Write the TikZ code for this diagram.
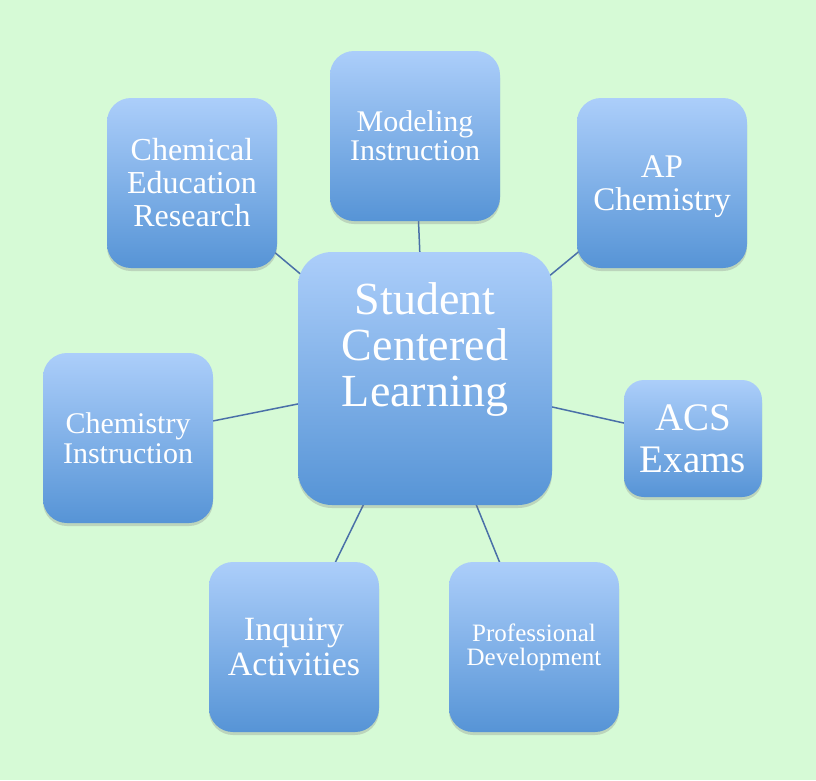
\documentclass[tikz,border=0pt]{standalone}
\usepackage{fontspec}
\setmainfont{Liberation Serif}
\usepackage{tikz}
\usetikzlibrary{backgrounds}
\usetikzlibrary{positioning}
\usetikzlibrary{shadows}

\definecolor{paper}{RGB}{214,250,214}
\definecolor{cardtop}{RGB}{172,206,250}
\definecolor{cardbottom}{RGB}{86,148,214}
\definecolor{linkblue}{RGB}{74,112,168}

\begin{document}
\begin{tikzpicture}[x=1pt,y=-1pt,
  card/.style={rectangle,rounded corners=24pt,top color=cardtop,bottom color=cardbottom,
    text=white,align=center,inner sep=0pt,minimum width=170pt,minimum height=170pt,
    drop shadow={shadow xshift=0pt,shadow yshift=-3pt,opacity=0.3}},
  link/.style={draw=linkblue,line width=1.5pt}]

  \useasboundingbox (0,0) rectangle (816,780);

  \node [card,minimum width=254pt,minimum height=253pt,rounded corners=34pt] (hub) at (425,378.5) {};
  \node [below=31pt of hub.north,text=white,align=center,inner sep=0pt,
    font=\fontsize{46}{46}\selectfont] (hublab) {Student\\Centered\\Learning};

  \node [card,font=\fontsize{30}{29}\selectfont] (model) at (415,136) {Modeling\\Instruction};
  \node [card,text depth=0pt,font=\fontsize{33}{33}\selectfont] (apchem) at (662,183) {AP\\Chemistry};
  \node [card,font=\fontsize{32}{33}\selectfont] (chemed) at (192,183) {Chemical\\Education\\Research};
  \node [card,font=\fontsize{30}{30}\selectfont] (chemins) at (128,438) {Chemistry\\Instruction};
  \node [card,minimum width=138pt,minimum height=117pt,rounded corners=20pt,
    font=\fontsize{39}{42}\selectfont] (acs) at (693,438.5) {ACS\\Exams};
  \node [card,font=\fontsize{34}{35}\selectfont] (inquiry) at (294,647) {Inquiry\\Activities};
  \node [card,font=\fontsize{25}{24}\selectfont] (profdev) at (534,647) {Professional\\Development};

  \begin{scope}[on background layer]
    \fill [paper] (0,0) rectangle (816,780);
    \path [link]
      (hub.center) edge (model.center)
      (hub.center) edge (apchem.center)
      (hub.center) edge (chemed.center)
      (hub.center) edge (chemins.center)
      (hub.center) edge (acs.center)
      (hub.center) edge (inquiry.center)
      (hub.center) edge (profdev.center);
  \end{scope}
\end{tikzpicture}
\end{document}
